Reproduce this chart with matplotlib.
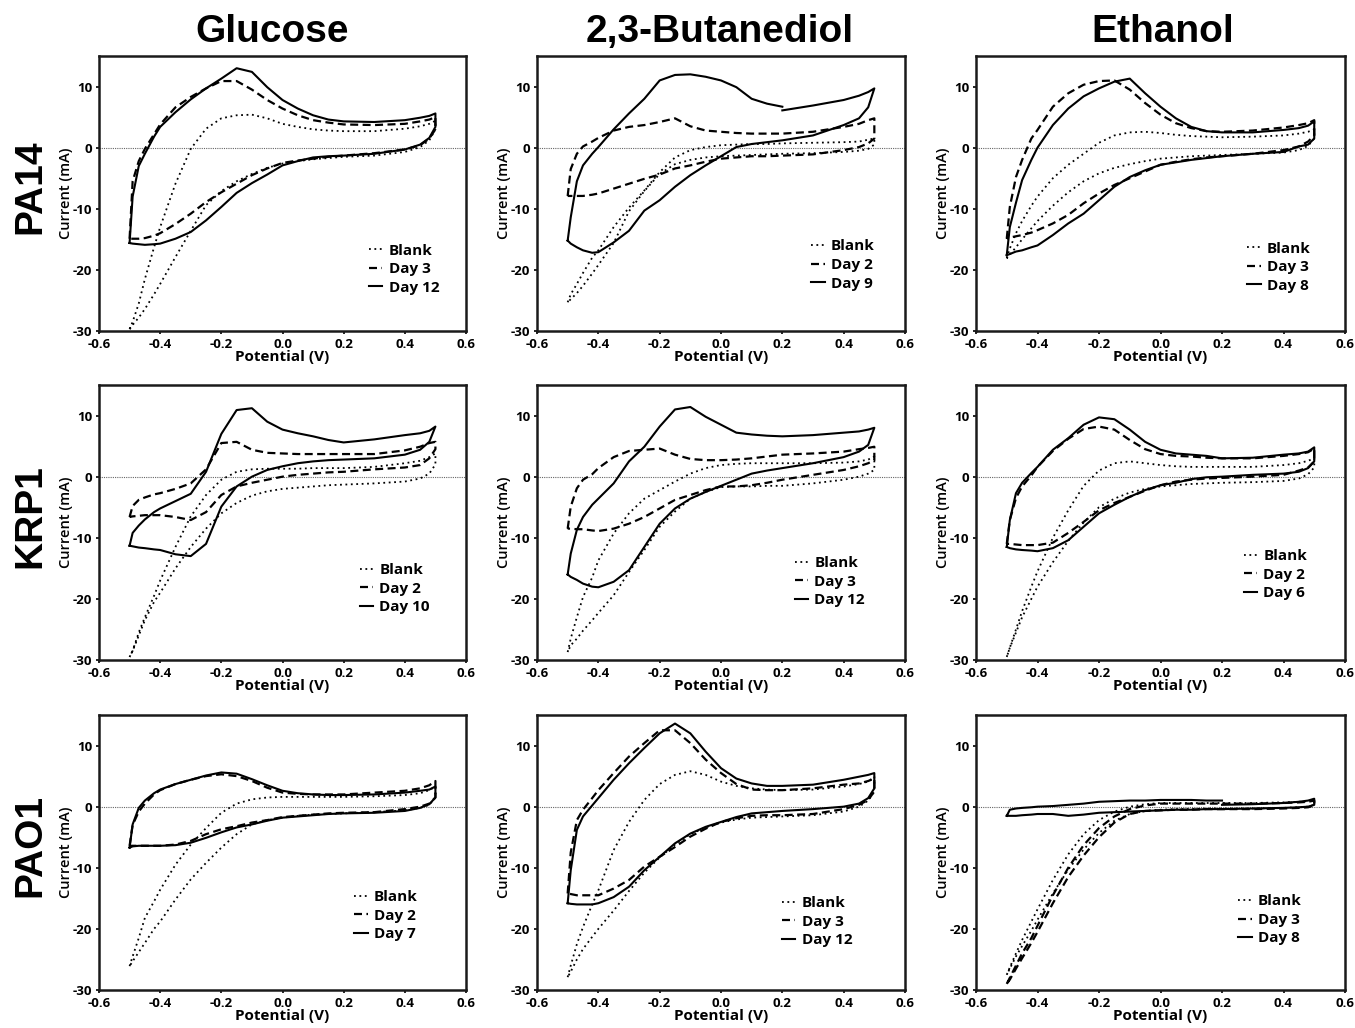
import numpy as np
import matplotlib
matplotlib.use("Agg")
import matplotlib.pyplot as plt
from matplotlib.lines import Line2D

plt.rcParams["axes.unicode_minus"] = False

# ---------------- data ----------------
# Potential grid (V); 0.20 listed twice so a scan start/stop gap can be encoded
POT = [-0.50, -0.49, -0.47, -0.45, -0.42, -0.40, -0.35, -0.30, -0.25, -0.20, -0.15, -0.10,
       -0.05, 0.00, 0.05, 0.10, 0.15, 0.20, 0.20, 0.30, 0.40, 0.45, 0.48, 0.50]

SUBSTRATES = ["Glucose", "2,3-Butanediol", "Ethanol"]
STRAINS = ["PA14", "KRP1", "PAO1"]

# Glucose / PA14  (currents in mA; *_UP = forward scan, *_DN = reverse scan)
GLU_PA14_BLANK_UP = [-29.7, -28.5, -25.5, -21.5, -16.3, -13.0, -5.9, -0.2, 3.1, 4.8, 5.3, 5.4, 4.8, 3.9, 3.4, 3.0, 2.8, 2.7, 2.7, 2.7, 3.1, 3.5, 3.9, 4.4]
GLU_PA14_BLANK_DN = [-29.7, -29.0, -27.8, -26.4, -24.0, -22.3, -17.9, -13.6, -9.4, -7.1, -5.5, -4.3, -3.3, -2.6, -2.2, -1.9, -1.7, -1.5, -1.5, -1.3, -0.7, 0.1, 1.2, 3.0]
GLU_PA14_D1_UP = [-14.9, -5.5, -2.2, -0.2, 2.2, 3.8, 6.6, 8.3, 9.7, 10.9, 10.9, 9.5, 7.8, 6.4, 5.3, 4.5, 4.1, 3.8, 3.8, 3.7, 3.9, 4.3, 4.6, 5.0]
GLU_PA14_D1_DN = [-14.9, -14.9, -14.9, -14.8, -14.4, -14.0, -12.5, -10.8, -8.9, -7.3, -5.9, -4.5, -3.4, -2.5, -2.1, -1.8, -1.5, -1.3, -1.3, -0.9, -0.3, 0.4, 1.5, 3.0]
GLU_PA14_D2_UP = [-15.6, -8.0, -3.0, -1.0, 1.8, 3.4, 5.8, 7.9, 9.7, 11.3, 13.0, 12.4, 9.9, 7.8, 6.4, 5.3, 4.6, 4.3, 4.3, 4.2, 4.5, 4.9, 5.2, 5.6]
GLU_PA14_D2_DN = [-15.6, -15.7, -15.8, -15.9, -15.8, -15.7, -14.9, -13.8, -11.9, -9.7, -7.4, -5.8, -4.4, -2.9, -2.2, -1.6, -1.4, -1.3, -1.3, -1.0, -0.3, 0.5, 1.6, 3.4]

# 2,3-Butanediol / PA14
BUT_PA14_BLANK_UP = [-25.3, -24.0, -22.3, -20.5, -18.0, -16.8, -13.0, -9.8, -7.0, -4.0, -1.6, -0.4, 0.1, 0.4, 0.5, 0.6, 0.6, 0.7, 0.7, 0.8, 0.9, 1.0, 1.3, 1.5]
BUT_PA14_BLANK_DN = [-25.3, -24.8, -23.8, -22.6, -20.6, -19.2, -15.6, -10.4, -7.1, -4.3, -2.7, -2.0, -1.6, -1.4, -1.3, -1.2, -1.1, -1.0, -1.0, -0.9, -0.7, -0.5, -0.2, 0.5]
BUT_PA14_D1_UP = [-7.9, -3.5, -1.0, 0.2, 1.0, 1.6, 2.8, 3.4, 3.7, 4.2, 4.8, 3.5, 2.8, 2.6, 2.4, 2.3, 2.3, 2.3, 2.3, 2.6, 3.4, 3.9, 4.5, 4.8]
BUT_PA14_D1_DN = [-7.9, -7.9, -7.9, -7.9, -7.7, -7.5, -6.7, -5.9, -5.1, -4.4, -3.4, -2.9, -2.3, -1.8, -1.6, -1.4, -1.4, -1.3, -1.3, -1.1, -0.4, 0.1, 0.7, 1.5]
BUT_PA14_D2_UP = [-15.2, -11.4, -5.5, -2.9, -1.0, 0.1, 3.0, 5.6, 8.0, 11.0, 11.9, 12.0, 11.6, 11.0, 9.9, 8.0, 7.2, 6.7, 6.1, 6.9, 7.8, 8.5, 9.1, 9.7]
BUT_PA14_D2_DN = [-15.2, -15.7, -16.3, -16.8, -17.2, -17.1, -15.5, -13.6, -10.3, -8.6, -6.4, -4.5, -2.9, -1.4, 0.1, 0.6, 0.9, 1.2, 1.2, 2.0, 3.7, 4.8, 6.6, 9.7]

# Ethanol / PA14
ETH_PA14_BLANK_UP = [-18.1, -16.5, -14.0, -12.0, -9.5, -8.0, -5.0, -2.8, -1.0, 0.8, 2.0, 2.5, 2.6, 2.4, 2.1, 1.9, 1.8, 1.7, 1.7, 1.8, 2.0, 2.3, 2.6, 3.0]
ETH_PA14_BLANK_DN = [-18.1, -17.5, -16.3, -15.0, -13.2, -12.0, -9.5, -7.3, -5.5, -4.2, -3.3, -2.7, -2.2, -1.8, -1.6, -1.4, -1.3, -1.2, -1.2, -1.0, -0.8, -0.4, 0.3, 1.5]
ETH_PA14_D1_UP = [-14.9, -9.7, -4.8, -2.0, 1.5, 2.9, 6.7, 8.9, 10.3, 10.9, 11.0, 9.5, 7.3, 5.4, 4.0, 3.2, 2.7, 2.6, 2.6, 2.8, 3.3, 3.7, 4.0, 4.5]
ETH_PA14_D1_DN = [-14.9, -14.7, -14.5, -14.3, -13.9, -13.5, -12.4, -11.0, -9.1, -7.5, -6.1, -5.0, -3.9, -2.8, -2.3, -1.9, -1.6, -1.4, -1.4, -1.0, -0.4, 0.2, 1.0, 2.0]
ETH_PA14_D2_UP = [-17.6, -13.0, -9.0, -5.3, -2.0, 0.0, 3.7, 6.4, 8.4, 9.7, 10.8, 11.3, 8.9, 6.7, 4.8, 3.4, 2.7, 2.5, 2.5, 2.5, 2.9, 3.2, 3.6, 4.3]
ETH_PA14_D2_DN = [-17.6, -17.4, -17.0, -16.8, -16.3, -16.0, -14.3, -12.4, -10.8, -8.6, -6.4, -4.8, -3.7, -2.8, -2.4, -2.0, -1.7, -1.4, -1.4, -1.0, -0.7, 0.2, 0.5, 1.5]

# Glucose / KRP1
GLU_KRP1_BLANK_UP = [-29.5, -28.5, -25.5, -23.0, -19.5, -17.0, -11.5, -6.5, -3.0, -0.5, 0.8, 1.2, 1.3, 1.3, 1.3, 1.4, 1.4, 1.4, 1.4, 1.6, 2.2, 2.6, 3.2, 3.8]
GLU_KRP1_BLANK_DN = [-29.5, -28.5, -26.0, -23.5, -20.5, -19.0, -15.0, -11.5, -8.5, -6.0, -4.3, -3.1, -2.4, -2.0, -1.8, -1.6, -1.4, -1.3, -1.3, -1.1, -0.8, -0.3, 0.5, 2.0]
GLU_KRP1_D1_UP = [-6.6, -4.8, -3.8, -3.4, -2.9, -2.7, -2.0, -1.1, 1.2, 5.5, 5.7, 4.4, 3.9, 3.8, 3.7, 3.7, 3.7, 3.7, 3.7, 3.7, 4.3, 4.9, 5.5, 5.7]
GLU_KRP1_D1_DN = [-6.6, -6.5, -6.4, -6.3, -6.3, -6.3, -6.6, -7.1, -5.8, -3.0, -1.6, -1.0, -0.5, 0.0, 0.3, 0.5, 0.7, 0.8, 0.8, 1.2, 1.5, 1.9, 3.0, 4.5]
GLU_KRP1_D2_UP = [-11.3, -9.2, -8.0, -7.0, -5.8, -5.2, -4.0, -2.8, 0.8, 7.0, 10.9, 11.2, 9.0, 7.7, 7.1, 6.6, 6.0, 5.6, 5.6, 6.1, 6.8, 7.1, 7.5, 8.2]
GLU_KRP1_D2_DN = [-11.3, -11.4, -11.6, -11.7, -11.9, -12.0, -12.7, -13.0, -11.0, -4.9, -1.6, 0.0, 1.1, 1.7, 2.2, 2.5, 2.7, 2.8, 2.8, 3.0, 3.6, 4.4, 5.7, 8.2]

# 2,3-Butanediol / KRP1
BUT_KRP1_BLANK_UP = [-28.7, -26.5, -23.0, -19.7, -16.5, -13.7, -9.3, -6.0, -3.6, -2.2, -0.8, 0.5, 1.4, 1.9, 2.1, 2.2, 2.2, 2.2, 2.2, 2.2, 2.3, 2.5, 2.8, 3.3]
BUT_KRP1_BLANK_DN = [-28.7, -27.6, -26.5, -25.2, -23.5, -22.3, -19.4, -15.6, -12.0, -8.2, -5.7, -3.6, -2.5, -1.7, -1.6, -1.6, -1.5, -1.5, -1.5, -1.1, -0.5, 0.0, 0.5, 1.1]
BUT_KRP1_D1_UP = [-8.5, -4.9, -1.9, -0.5, 0.4, 1.4, 3.2, 4.2, 4.4, 4.6, 3.6, 2.9, 2.7, 2.7, 2.8, 3.0, 3.3, 3.6, 3.6, 3.8, 4.1, 4.5, 4.7, 4.9]
BUT_KRP1_D1_DN = [-8.5, -8.5, -8.6, -8.6, -8.8, -8.9, -8.5, -7.7, -6.6, -5.2, -3.8, -3.0, -2.2, -1.6, -1.6, -1.4, -1.0, -0.5, -0.5, 0.3, 1.1, 1.7, 2.2, 2.7]
BUT_KRP1_D2_UP = [-16.0, -12.6, -8.7, -6.6, -4.6, -3.6, -1.1, 2.5, 4.9, 8.2, 11.0, 11.4, 9.8, 8.5, 7.2, 6.9, 6.7, 6.6, 6.6, 6.8, 7.2, 7.4, 7.7, 8.0]
BUT_KRP1_D2_DN = [-16.0, -16.4, -16.9, -17.5, -18.0, -18.1, -17.2, -15.3, -11.5, -7.7, -5.2, -3.6, -2.5, -1.5, -0.5, 0.5, 1.0, 1.4, 1.4, 2.2, 3.2, 4.1, 5.2, 8.0]

# Ethanol / KRP1
ETH_KRP1_BLANK_UP = [-29.5, -28.0, -25.0, -22.0, -18.0, -15.5, -10.0, -5.5, -1.5, 1.0, 2.2, 2.5, 2.2, 1.9, 1.7, 1.6, 1.6, 1.6, 1.6, 1.6, 1.9, 2.2, 2.6, 3.0]
ETH_KRP1_BLANK_DN = [-29.5, -28.0, -25.5, -23.0, -20.0, -18.0, -14.0, -10.5, -7.5, -5.0, -3.6, -2.6, -2.0, -1.6, -1.4, -1.2, -1.1, -1.0, -1.0, -0.9, -0.7, -0.3, 0.4, 1.5]
ETH_KRP1_D1_UP = [-11.0, -7.1, -3.5, -1.6, 0.2, 1.6, 4.2, 6.2, 7.8, 8.2, 7.7, 6.0, 4.5, 3.7, 3.4, 3.3, 3.1, 3.0, 3.0, 3.0, 3.4, 3.7, 4.0, 4.6]
ETH_KRP1_D1_DN = [-11.0, -11.0, -11.1, -11.2, -11.2, -11.2, -10.8, -9.2, -7.4, -5.5, -4.3, -3.3, -2.3, -1.4, -0.8, -0.5, -0.3, -0.2, -0.2, 0.0, 0.3, 1.0, 1.5, 2.5]
ETH_KRP1_D2_UP = [-11.5, -7.1, -2.7, -1.0, 0.6, 1.6, 4.4, 6.3, 8.5, 9.7, 9.4, 7.7, 5.7, 4.4, 3.8, 3.6, 3.4, 3.0, 3.0, 3.1, 3.6, 3.8, 4.1, 4.8]
ETH_KRP1_D2_DN = [-11.5, -11.7, -11.9, -12.0, -12.1, -12.2, -11.7, -10.4, -8.2, -6.0, -4.6, -3.3, -2.2, -1.4, -1.0, -0.4, -0.1, 0.0, 0.0, 0.3, 0.5, 0.8, 1.4, 2.5]

# Glucose / PAO1
GLU_PAO1_BLANK_UP = [-26.1, -24.5, -21.5, -18.2, -15.5, -13.6, -9.5, -6.2, -3.5, -1.0, 0.5, 1.2, 1.5, 1.6, 1.6, 1.6, 1.6, 1.6, 1.6, 1.7, 1.9, 2.2, 2.7, 3.3]
GLU_PAO1_BLANK_DN = [-26.1, -25.3, -23.8, -22.3, -20.0, -18.8, -15.2, -11.9, -9.2, -6.7, -4.5, -2.9, -2.2, -1.8, -1.5, -1.3, -1.2, -1.1, -1.1, -0.9, -0.6, -0.2, 0.3, 1.5]
GLU_PAO1_D1_UP = [-6.4, -3.0, -0.8, 0.5, 2.0, 2.7, 3.7, 4.4, 5.0, 5.3, 5.0, 4.2, 3.1, 2.3, 2.1, 2.0, 2.0, 2.0, 2.0, 2.3, 2.6, 3.0, 3.5, 4.2]
GLU_PAO1_D1_DN = [-6.4, -6.4, -6.4, -6.4, -6.4, -6.4, -6.2, -5.6, -4.5, -3.7, -3.2, -2.6, -2.2, -1.7, -1.5, -1.3, -1.1, -1.0, -1.0, -0.9, -0.4, 0.0, 0.5, 1.5]
GLU_PAO1_D2_UP = [-6.7, -2.9, -0.2, 1.0, 2.2, 2.8, 3.7, 4.4, 5.1, 5.6, 5.4, 4.5, 3.5, 2.6, 2.2, 2.0, 1.9, 1.9, 1.9, 2.0, 2.3, 2.6, 2.8, 3.3]
GLU_PAO1_D2_DN = [-6.7, -6.5, -6.4, -6.4, -6.4, -6.4, -6.3, -5.9, -5.1, -4.2, -3.4, -2.9, -2.3, -1.8, -1.6, -1.4, -1.2, -1.1, -1.1, -1.0, -0.7, -0.2, 0.4, 1.5]

# 2,3-Butanediol / PAO1
BUT_PAO1_BLANK_UP = [-27.9, -26.0, -22.5, -19.7, -16.0, -13.7, -7.1, -2.5, 1.1, 3.7, 5.2, 5.8, 5.2, 4.1, 3.4, 3.0, 2.8, 2.7, 2.7, 2.8, 3.3, 3.7, 4.1, 4.9]
BUT_PAO1_BLANK_DN = [-27.9, -27.0, -25.0, -23.3, -21.3, -20.0, -17.0, -13.8, -10.8, -8.3, -6.2, -4.5, -3.4, -2.6, -2.1, -1.8, -1.7, -1.6, -1.6, -1.4, -0.8, 0.0, 1.0, 2.5]
BUT_PAO1_D1_UP = [-14.2, -7.5, -2.2, -0.5, 1.4, 2.7, 5.5, 8.2, 10.4, 12.5, 12.5, 10.4, 7.7, 5.5, 3.7, 2.8, 2.7, 2.7, 2.7, 3.0, 3.6, 3.8, 4.2, 4.6]
BUT_PAO1_D1_DN = [-14.2, -14.3, -14.5, -14.5, -14.5, -14.5, -13.4, -12.0, -9.8, -8.2, -6.6, -4.9, -3.6, -2.5, -1.9, -1.5, -1.4, -1.4, -1.4, -1.2, -0.4, 0.3, 1.1, 2.5]
BUT_PAO1_D2_UP = [-15.8, -10.4, -3.8, -1.6, 0.2, 1.4, 4.4, 7.1, 9.6, 12.0, 13.6, 12.0, 9.0, 6.3, 4.6, 3.8, 3.4, 3.4, 3.4, 3.6, 4.4, 4.9, 5.2, 5.5]
BUT_PAO1_D2_DN = [-15.8, -15.9, -16.0, -16.0, -16.0, -15.8, -14.8, -13.1, -10.4, -8.2, -6.0, -4.4, -3.3, -2.5, -1.7, -1.1, -0.9, -0.7, -0.7, -0.4, 0.0, 0.5, 1.4, 3.0]

# Ethanol / PAO1
ETH_PAO1_BLANK_UP = [-27.5, -26.3, -24.0, -21.8, -18.8, -16.8, -12.0, -7.8, -4.5, -2.2, -0.8, 0.0, 0.4, 0.6, 0.6, 0.6, 0.6, 0.6, 0.6, 0.6, 0.7, 0.8, 0.9, 1.1]
ETH_PAO1_BLANK_DN = [-27.5, -26.5, -24.5, -22.8, -20.3, -18.5, -14.2, -10.3, -7.0, -4.3, -2.3, -1.2, -0.7, -0.5, -0.4, -0.4, -0.3, -0.3, -0.3, -0.3, -0.2, -0.1, 0.0, 0.3]
ETH_PAO1_D1_UP = [-29.0, -28.0, -26.0, -24.0, -21.5, -19.5, -14.5, -10.0, -6.3, -3.5, -1.6, -0.4, 0.2, 0.5, 0.5, 0.5, 0.5, 0.5, 0.5, 0.5, 0.6, 0.7, 0.8, 1.0]
ETH_PAO1_D1_DN = [-29.0, -28.3, -26.5, -24.8, -22.3, -20.5, -15.8, -11.5, -8.0, -5.0, -2.6, -1.2, -0.7, -0.6, -0.5, -0.5, -0.4, -0.4, -0.4, -0.4, -0.3, -0.2, -0.1, 0.2]
ETH_PAO1_D2_UP = [-1.5, -0.5, -0.3, -0.2, -0.1, 0.0, 0.1, 0.3, 0.5, 0.8, 0.9, 1.0, 1.0, 1.1, 1.1, 1.1, 1.0, 1.0, 0.3, 0.4, 0.6, 0.8, 1.0, 1.3]
ETH_PAO1_D2_DN = [-1.5, -1.5, -1.5, -1.4, -1.3, -1.2, -1.2, -1.5, -1.3, -1.0, -0.9, -0.8, -0.7, -0.6, -0.5, -0.5, -0.4, -0.4, -0.4, -0.3, -0.2, -0.1, 0.0, 0.3]

# Legend labels per panel (row-major: strain rows, substrate columns)
LABELS = [
    [["Blank", "Day 3", "Day 12"], ["Blank", "Day 2", "Day 9"], ["Blank", "Day 3", "Day 8"]],
    [["Blank", "Day 2", "Day 10"], ["Blank", "Day 3", "Day 12"], ["Blank", "Day 2", "Day 6"]],
    [["Blank", "Day 2", "Day 7"], ["Blank", "Day 3", "Day 12"], ["Blank", "Day 3", "Day 8"]],
]

SERIES = [
    [[(GLU_PA14_BLANK_UP, GLU_PA14_BLANK_DN), (GLU_PA14_D1_UP, GLU_PA14_D1_DN), (GLU_PA14_D2_UP, GLU_PA14_D2_DN)],
     [(BUT_PA14_BLANK_UP, BUT_PA14_BLANK_DN), (BUT_PA14_D1_UP, BUT_PA14_D1_DN), (BUT_PA14_D2_UP, BUT_PA14_D2_DN)],
     [(ETH_PA14_BLANK_UP, ETH_PA14_BLANK_DN), (ETH_PA14_D1_UP, ETH_PA14_D1_DN), (ETH_PA14_D2_UP, ETH_PA14_D2_DN)]],
    [[(GLU_KRP1_BLANK_UP, GLU_KRP1_BLANK_DN), (GLU_KRP1_D1_UP, GLU_KRP1_D1_DN), (GLU_KRP1_D2_UP, GLU_KRP1_D2_DN)],
     [(BUT_KRP1_BLANK_UP, BUT_KRP1_BLANK_DN), (BUT_KRP1_D1_UP, BUT_KRP1_D1_DN), (BUT_KRP1_D2_UP, BUT_KRP1_D2_DN)],
     [(ETH_KRP1_BLANK_UP, ETH_KRP1_BLANK_DN), (ETH_KRP1_D1_UP, ETH_KRP1_D1_DN), (ETH_KRP1_D2_UP, ETH_KRP1_D2_DN)]],
    [[(GLU_PAO1_BLANK_UP, GLU_PAO1_BLANK_DN), (GLU_PAO1_D1_UP, GLU_PAO1_D1_DN), (GLU_PAO1_D2_UP, GLU_PAO1_D2_DN)],
     [(BUT_PAO1_BLANK_UP, BUT_PAO1_BLANK_DN), (BUT_PAO1_D1_UP, BUT_PAO1_D1_DN), (BUT_PAO1_D2_UP, BUT_PAO1_D2_DN)],
     [(ETH_PAO1_BLANK_UP, ETH_PAO1_BLANK_DN), (ETH_PAO1_D1_UP, ETH_PAO1_D1_DN), (ETH_PAO1_D2_UP, ETH_PAO1_D2_DN)]],
]

# ---------------- styling / layout ----------------
SMALL_FONT = ["Open Sans", "DejaVu Sans"]
BIG_FONT = ["Liberation Sans", "DejaVu Sans"]
STYLES = [
    dict(linestyle=(0, (1, 2.0)), linewidth=1.3),
    dict(linestyle=(0, (3.6, 2.0)), linewidth=1.6),
    dict(linestyle="-", linewidth=1.5),
]
W, H = 1355, 1028
COL_LEFT = [99, 537, 976]
COL_W = [367, 368, 369]
ROW_TOP = [56, 385, 715]
AX_H = 275
# legend anchor (axes fraction): left of handle, vertical centre
LEG_POS = [
    [(0.735, 0.225), (0.745, 0.24), (0.735, 0.232)],
    [(0.71, 0.26), (0.70, 0.285), (0.725, 0.31)],
    [(0.695, 0.27), (0.665, 0.248), (0.71, 0.255)],
]
TITLE_X = [272, 720, 1163]
ROW_Y = [187, 516, 845]


def loop_path(up, dn):
    xs, ys = [], []
    for i, (v, c) in enumerate(zip(POT, up)):
        if i > 0 and POT[i] == POT[i - 1] and c != up[i - 1]:
            xs.append(np.nan)
            ys.append(np.nan)
        xs.append(v)
        ys.append(c)
    for v, c in reversed(list(zip(POT, dn))):
        xs.append(v)
        ys.append(c)
    xs.append(POT[0])
    ys.append(up[0])
    return np.array(xs), np.array(ys)


fig = plt.figure(figsize=(W / 100, H / 100), dpi=100)

for r in range(3):
    for c in range(3):
        left = COL_LEFT[c] / W
        bottom = 1 - (ROW_TOP[r] + AX_H) / H
        ax = fig.add_axes([left, bottom, COL_W[c] / W, AX_H / H])
        ax.axhline(0, color="#666666", linewidth=0.8, linestyle=(0, (1, 1)), zorder=1)
        handles = []
        for k, (up, dn) in enumerate(SERIES[r][c]):
            x, y = loop_path(up, dn)
            ax.plot(x, y, color="black", zorder=3, solid_joinstyle="round", **STYLES[k])
            handles.append(Line2D([], [], color="black", **STYLES[k]))
        ax.set_xlim(-0.6, 0.6)
        ax.set_ylim(-30, 15)
        ax.set_xticks(np.arange(-0.6, 0.61, 0.2))
        ax.set_xticklabels([f"{v:.1f}" for v in np.arange(-0.6, 0.61, 0.2)])
        ax.set_yticks([-30, -20, -10, 0, 10])
        for sp in ax.spines.values():
            sp.set_linewidth(1.8)
            sp.set_color("#1a1a1a")
        ax.tick_params(direction="out", length=2.5, width=1.2, pad=2.5)
        for lab in ax.get_xticklabels() + ax.get_yticklabels():
            lab.set_fontfamily(SMALL_FONT)
            lab.set_fontweight("bold")
            lab.set_fontsize(9.5)
        ax.set_xlabel("Potential (V)", family=SMALL_FONT, fontweight="bold", fontsize=11, labelpad=-1)
        ax.set_ylabel("Current (mA)", family=SMALL_FONT, fontweight="semibold", fontsize=10.5, labelpad=-0.5)
        lx, ly = LEG_POS[r][c]
        ax.legend(handles, LABELS[r][c], loc="center left", bbox_to_anchor=(lx, ly),
                  frameon=False, handlelength=0.9, handletextpad=0.4, labelspacing=0.3,
                  borderpad=0, borderaxespad=0,
                  prop=dict(family=SMALL_FONT, weight="bold", size=11))

for c, name in enumerate(SUBSTRATES):
    fig.text(TITLE_X[c] / W, 1 - 32 / H, name, ha="center", va="center",
             family=BIG_FONT, fontweight="bold", fontsize=28)
for r, name in enumerate(STRAINS):
    fig.text(30 / W, 1 - ROW_Y[r] / H, name, ha="center", va="center", rotation=90,
             family=BIG_FONT, fontweight="bold", fontsize=28)

fig.savefig("out.png", dpi=100)
